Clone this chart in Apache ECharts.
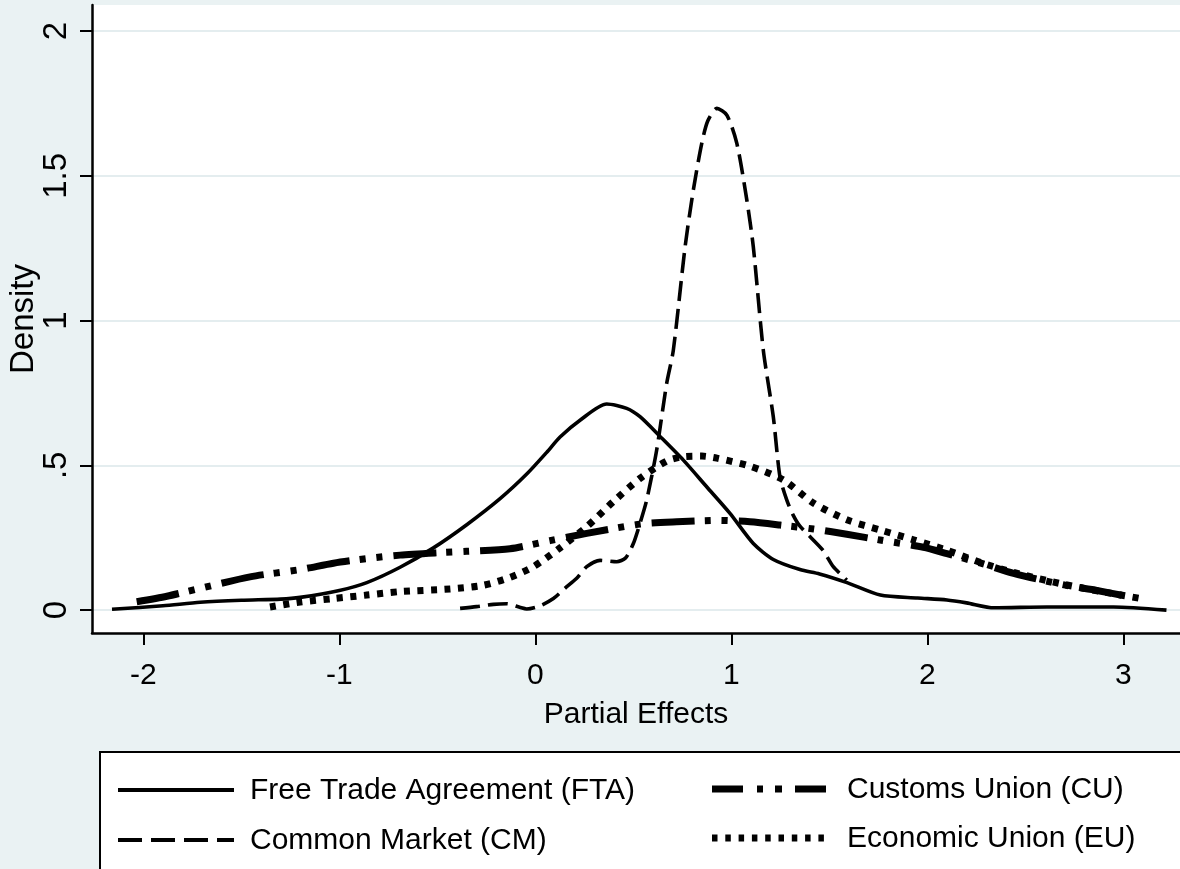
<!DOCTYPE html>
<html>
<head>
<meta charset="utf-8">
<title>Density of Partial Effects</title>
<script src="https://cdn.jsdelivr.net/npm/echarts@6/dist/echarts.min.js"></script>
<style>
  html, body { margin: 0; padding: 0; background: #eaf2f3; }
  #chart { width: 1180px; height: 869px; }
</style>
</head>
<body>
<div id="chart"></div>
<script>
// Kernel density estimates of partial effects, one curve per agreement type
const seriesNames = [
  'Free Trade Agreement (FTA)',
  'Common Market (CM)',
  'Customs Union (CU)',
  'Economic Union (EU)'
];

const ftaPoints = [
  [-2.16, 0.003], [-1.9, 0.015], [-1.71, 0.027], [-1.5, 0.034], [-1.3, 0.038],
  [-1.2, 0.044], [-1.0, 0.068], [-0.86, 0.095], [-0.69, 0.148], [-0.52, 0.215],
  [-0.35, 0.295], [-0.18, 0.385], [-0.044, 0.47], [0.058, 0.545], [0.126, 0.598],
  [0.228, 0.656], [0.364, 0.712], [0.466, 0.697], [0.534, 0.668], [0.636, 0.60],
  [0.755, 0.518], [0.874, 0.426], [0.993, 0.334], [1.112, 0.23], [1.214, 0.175],
  [1.35, 0.14], [1.45, 0.125], [1.59, 0.095], [1.76, 0.052], [1.95, 0.042],
  [2.1, 0.035], [2.2, 0.025], [2.34, 0.008], [2.61, 0.011], [2.95, 0.011],
  [3.22, 0.0]
];

const cmPoints = [
  [-0.384, 0.006], [-0.3, 0.012], [-0.214, 0.02], [-0.146, 0.022], [-0.08, 0.01],
  [-0.044, 0.004], [0.024, 0.015], [0.092, 0.04], [0.15, 0.075], [0.211, 0.11],
  [0.262, 0.15], [0.33, 0.172], [0.415, 0.167], [0.46, 0.18], [0.5, 0.23],
  [0.534, 0.30], [0.568, 0.38], [0.619, 0.553], [0.67, 0.783], [0.704, 0.898],
  [0.764, 1.255], [0.806, 1.451], [0.849, 1.612], [0.88, 1.69], [0.926, 1.733],
  [0.977, 1.71], [1.028, 1.612], [1.079, 1.416], [1.112, 1.255], [1.163, 0.898],
  [1.214, 0.668], [1.248, 0.46], [1.283, 0.38], [1.314, 0.33], [1.35, 0.29],
  [1.467, 0.207], [1.52, 0.15], [1.589, 0.104]
];

const cuPoints = [
  [-2.034, 0.029], [-1.88, 0.048], [-1.711, 0.075], [-1.456, 0.115], [-1.2, 0.14],
  [-1.03, 0.162], [-0.86, 0.178], [-0.69, 0.19], [-0.5, 0.198], [-0.35, 0.203],
  [-0.129, 0.212], [0.075, 0.24], [0.262, 0.265], [0.534, 0.297], [0.721, 0.305],
  [0.942, 0.31], [1.095, 0.305], [1.248, 0.294], [1.42, 0.28], [1.589, 0.262],
  [1.759, 0.242], [1.98, 0.217], [2.1, 0.195], [2.269, 0.163], [2.44, 0.127],
  [2.69, 0.088], [2.865, 0.068], [3.033, 0.046]
];

const euPoints = [
  [-1.354, 0.011], [-1.2, 0.028], [-1.03, 0.04], [-0.86, 0.052], [-0.69, 0.064],
  [-0.435, 0.073], [-0.265, 0.086], [-0.129, 0.113], [-0.01, 0.15], [0.126, 0.215],
  [0.262, 0.288], [0.398, 0.375], [0.534, 0.455], [0.67, 0.515], [0.755, 0.53],
  [0.85, 0.532], [0.926, 0.525], [1.095, 0.497], [1.265, 0.45], [1.418, 0.37],
  [1.589, 0.312], [1.759, 0.277], [1.929, 0.243], [2.099, 0.207], [2.269, 0.165],
  [2.44, 0.13], [2.69, 0.09], [2.88, 0.065], [3.09, 0.04]
];

const xTicks = [-2, -1, 0, 1, 2, 3];
const yTicks = [0, 0.5, 1, 1.5, 2];
const xTitle = 'Partial Effects';
const yTitle = 'Density';

const FONT = '"Liberation Sans", Arial, Helvetica, sans-serif';

// line patterns: solid, dash, dash-dot-dot, dot
const styles = [
  { width: 3.6, type: 'solid' },
  { width: 3.6, type: [20, 8] },
  { width: 7, type: [43, 10, 6, 11, 6, 11] },
  { width: 7, type: [6, 7.5] }
];
const legendDash = [null, [24, 9], [31, 14, 6, 12, 7, 13], [5.5, 7.8]];
const allPoints = [ftaPoints, cmPoints, cuPoints, euPoints];

const chart = echarts.init(document.getElementById('chart'), null, { renderer: 'canvas' });

function yFmt(v) {
  if (v === 0) return '0';
  const s = String(v);
  return s.startsWith('0.') ? s.slice(1) : s;
}

// legend box drawn as graphics, two columns
const legendItems = [];
const legendCells = [
  { sx: 118, tx: 250, y: 790 },
  { sx: 118, tx: 250, y: 840 },
  { sx: 712, tx: 847, y: 789 },
  { sx: 712, tx: 847, y: 838 }
];
legendItems.push({
  type: 'rect', z: 10,
  shape: { x: 100, y: 752, width: 1120, height: 160 },
  style: { fill: '#ffffff', stroke: '#000000', lineWidth: 2 }
});
seriesNames.forEach((name, i) => {
  const c = legendCells[i];
  legendItems.push({
    type: 'line', z: 11,
    shape: { x1: c.sx, y1: c.y, x2: c.sx + 116, y2: c.y },
    style: {
      stroke: '#000', lineWidth: i < 2 ? 4 : 7, lineCap: 'butt',
      lineDash: legendDash[i]
    }
  });
  legendItems.push({
    type: 'text', z: 11,
    x: c.tx, y: c.y + 1,
    style: {
      text: name, fontSize: 30, fontFamily: FONT, fill: '#000',
      verticalAlign: 'middle', align: 'left'
    }
  });
});

const option = {
  backgroundColor: '#eaf2f3',
  animation: false,
  grid: {
    left: 92, right: 0, top: 5, bottom: 236,
    outerBoundsMode: 'none',
    containLabel: false,
    show: true, backgroundColor: '#ffffff', borderWidth: 0
  },
  xAxis: {
    type: 'value',
    min: -2.262, max: 3.289,
    name: xTitle,
    nameLocation: 'middle',
    nameGap: 67,
    nameTextStyle: { fontSize: 30, fontFamily: FONT, color: '#000' },
    axisLine: { show: true, onZero: false, lineStyle: { color: '#000', width: 2.5 } },
    axisTick: { show: true, length: 12, customValues: xTicks, lineStyle: { color: '#000', width: 2 } },
    axisLabel: { customValues: xTicks, fontSize: 30, fontFamily: FONT, color: '#000', margin: 28 },
    splitLine: { show: false }
  },
  yAxis: {
    type: 'value',
    min: -0.079, max: 2.09,
    name: yTitle,
    nameLocation: 'middle',
    nameGap: 52,
    nameMoveOverlap: false,
    nameTextStyle: { fontSize: 33, fontFamily: FONT, color: '#000' },
    axisLine: { show: true, onZero: false, lineStyle: { color: '#000', width: 2.5 } },
    axisTick: { show: true, length: 12, customValues: yTicks, lineStyle: { color: '#000', width: 2 } },
    axisLabel: {
      customValues: yTicks, rotate: 90, fontSize: 33, fontFamily: FONT, color: '#000',
      margin: 19, formatter: yFmt
    },
    splitLine: { show: true, lineStyle: { color: '#e4edef', width: 2 } }
  },
  series: seriesNames.map((name, i) => ({
    name: name,
    type: 'line',
    data: allPoints[i],
    symbol: 'none',
    smooth: 0.25,
    clip: true,
    lineStyle: { color: '#000', width: styles[i].width, type: styles[i].type, cap: 'butt', join: 'round' },
    z: 3 + i
  })),
  graphic: legendItems
};

chart.setOption(option);
</script>
</body>
</html>
